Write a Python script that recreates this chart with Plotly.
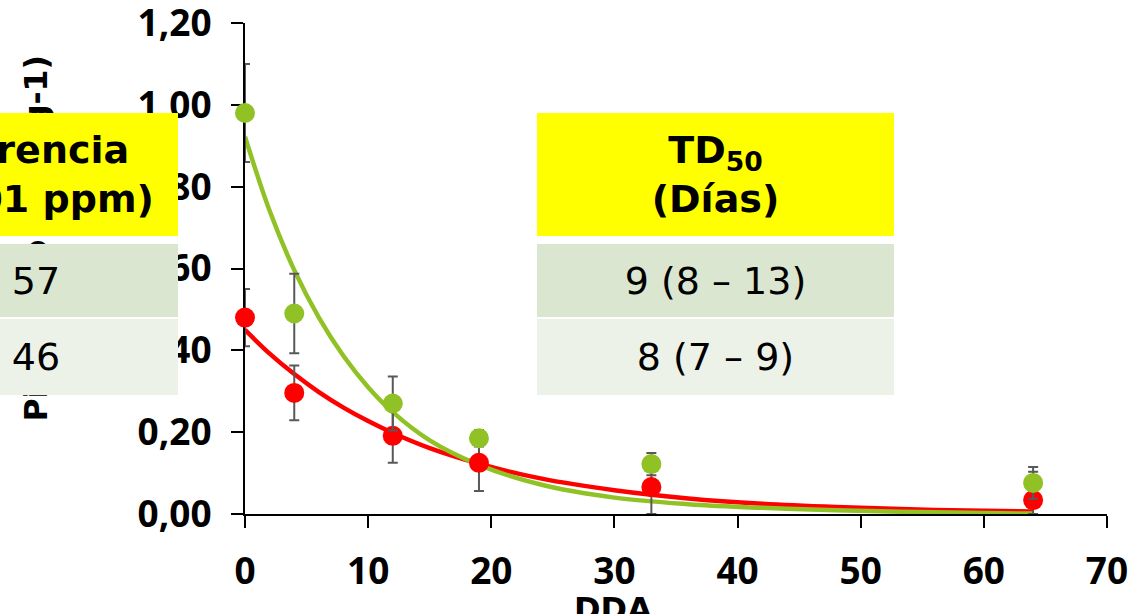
import plotly.graph_objects as go

# Sampling days (DDA) and measured residues
dias = [0, 4, 12, 19, 33, 64]

verde_y = [0.98, 0.49, 0.27, 0.185, 0.122, 0.076]
verde_err = [0.12, 0.097, 0.066, 0.02, 0.027, 0.039]

rojo_y = [0.48, 0.296, 0.191, 0.125, 0.066, 0.034]
rojo_err_plus = [0.07, 0.067, 0.066, 0.069, 0.066, 0.069]
rojo_err_minus = [0.07, 0.067, 0.066, 0.069, 0.066, 0.034]

# Fitted dissipation curves
curva_x = [0, 2, 4, 6, 8, 10, 12, 15, 19, 24, 30, 36, 42, 48, 56, 64]
curva_verde = [0.922, 0.741, 0.596, 0.480, 0.386, 0.310, 0.249, 0.180, 0.120,
               0.072, 0.040, 0.024, 0.015, 0.009, 0.004, 0.001]
curva_rojo = [0.450, 0.392, 0.342, 0.298, 0.260, 0.227, 0.198, 0.161, 0.123,
              0.087, 0.058, 0.038, 0.025, 0.017, 0.010, 0.006]

# Table contents
carencia_titulo = "<b>Carencia<br>(0,01 ppm)</b>"
carencia_vals = ["57", "46"]
td50_titulo = "<b>TD<sub>50</sub><br>(Días)</b>"
td50_vals = ["9 (8 – 13)", "8 (7 – 9)"]

y_ticks = [0, 0.2, 0.4, 0.6, 0.8, 1.0, 1.2]
x_ticks = [0, 10, 20, 30, 40, 50, 60, 70]

VERDE = "#90C226"
ROJO = "#FF0000"
GRIS = "#595959"
FONT = "DejaVu Sans"
TICK_FONT = "Noto Sans"

W, H = 1140, 614
ML, MR, MT, MB = 245, 33, 23, 100
PW, PH = W - ML - MR, H - MT - MB


def px_x(px):
    return (px - ML) / PW


def px_y(py):
    return (H - MB - py) / PH


fig = go.Figure()

fig.add_trace(go.Scatter(x=curva_x, y=curva_rojo, mode="lines", line=dict(color=ROJO, width=4.5, shape="spline"),
                         showlegend=False, hoverinfo="skip"))
fig.add_trace(go.Scatter(x=curva_x, y=curva_verde, mode="lines", line=dict(color=VERDE, width=4.5, shape="spline"),
                         showlegend=False, hoverinfo="skip"))

fig.add_trace(go.Scatter(
    x=dias, y=rojo_y, mode="markers",
    marker=dict(color=ROJO, size=20, line=dict(width=0)),
    error_y=dict(type="data", array=rojo_err_plus, arrayminus=rojo_err_minus, symmetric=False,
                 color=GRIS, thickness=2, width=5),
    cliponaxis=False, showlegend=False))
fig.add_trace(go.Scatter(
    x=dias, y=verde_y, mode="markers",
    marker=dict(color=VERDE, size=20, line=dict(width=0)),
    error_y=dict(type="data", array=verde_err, color=GRIS, thickness=2, width=5),
    cliponaxis=False, showlegend=False))

axis_common = dict(showgrid=False, zeroline=False, showline=True, linecolor="black", linewidth=2,
                   ticks="outside", ticklen=12, tickwidth=2, tickcolor="black",
                   tickfont=dict(family=TICK_FONT, size=37, color="black", weight="bold"),
                   ticklabeloverflow="allow", layer="below traces")

fig.update_xaxes(range=[0, 70], tickvals=x_ticks, ticklabelstandoff=12, **axis_common)
fig.update_yaxes(range=[0, 1.2], tickvals=y_ticks, tickformat=".2f", ticklabelstandoff=12, **axis_common)

annotations = []
# Axis titles (the table cells are drawn after them, on top)
annotations.append(dict(text="<b>Pirimicarb (mg kg-1)</b>", textangle=-90, xref="paper", yref="paper",
                        x=px_x(35), y=px_y(238.5), xanchor="center", yanchor="middle", showarrow=False,
                        font=dict(family=FONT, size=31.5, color="black")))
annotations.append(dict(text="<b>DDA</b>", xref="paper", yref="paper",
                        x=px_x(613), y=px_y(588), xanchor="center", yanchor="top", showarrow=False,
                        font=dict(family=FONT, size=32, color="black")))


def celda(text, x0, x1, y0, y1, color, size):
    return dict(text=text, xref="paper", yref="paper", x=px_x((x0 + x1) / 2), y=px_y((y0 + y1) / 2),
                xanchor="center", yanchor="middle", width=x1 - x0, height=y1 - y0,
                bgcolor=color, borderpad=0, borderwidth=0, showarrow=False, align="center",
                valign="middle", font=dict(family=FONT, size=size, color="black"))


filas = [(113, 236, "#FFFF00"), (244, 317, "#DAE6CF"), (319, 395, "#EDF2E8")]

# Left table (Carencia)
annotations.append(celda(carencia_titulo, -106, 178, filas[0][0], filas[0][1], filas[0][2], 38))
for (y0, y1, c), v in zip(filas[1:], carencia_vals):
    annotations.append(celda(v, -106, 178, y0, y1, c, 38))

# Right table (TD50)
annotations.append(celda(td50_titulo, 537, 894, filas[0][0], filas[0][1], filas[0][2], 38))
for (y0, y1, c), v in zip(filas[1:], td50_vals):
    annotations.append(celda(v, 537, 894, y0, y1, c, 38))

fig.update_layout(
    width=W, height=H,
    margin=dict(l=ML, r=MR, t=MT, b=MB, autoexpand=False),
    paper_bgcolor="white", plot_bgcolor="white",
    separators=",.",
    annotations=annotations,
    showlegend=False,
)

fig.write_html("out.html")
